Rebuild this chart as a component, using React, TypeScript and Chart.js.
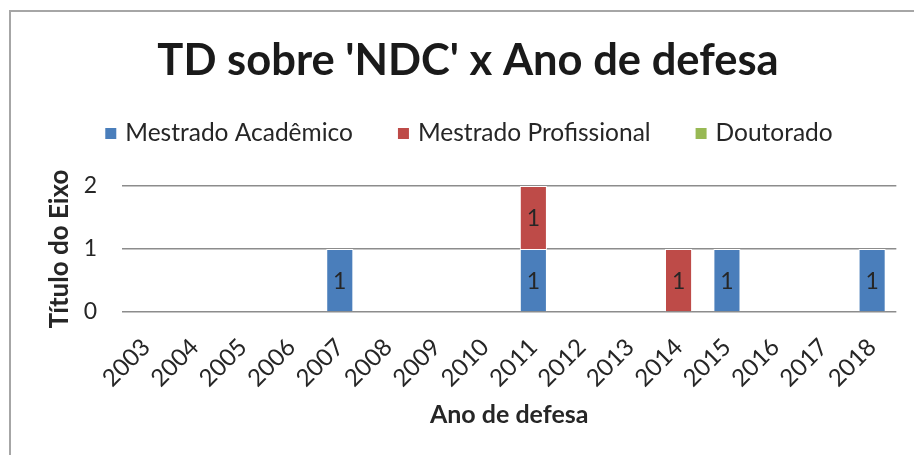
import React, { useEffect, useRef } from "react";
import { Chart, registerables } from "chart.js";

Chart.register(...registerables);

const categories = ["2003","2004","2005","2006","2007","2008","2009","2010","2011","2012","2013","2014","2015","2016","2017","2018"];
const academico = [0,0,0,0,1,0,0,0,1,0,0,0,1,0,0,1];
const profissional = [0,0,0,0,0,0,0,0,1,0,0,1,0,0,0,0];
const doutorado = [0,0,0,0,0,0,0,0,0,0,0,0,0,0,0,0];
const yTicks = [0, 1, 2];
const chartTitle = "TD sobre 'NDC' x Ano de defesa";

const FONT = "Lato, 'Open Sans', sans-serif";

const framePlugin = {
  id: "frameAndHeader",
  beforeDraw(chart: any) {
    const ctx = chart.ctx;
    ctx.save();
    ctx.fillStyle = "#ffffff";
    ctx.fillRect(0, 0, chart.width, chart.height);
    ctx.strokeStyle = "#a6a6a6";
    ctx.lineWidth = 2;
    ctx.beginPath();
    ctx.moveTo(10, chart.height);
    ctx.lineTo(10, 11);
    ctx.lineTo(chart.width, 11);
    ctx.stroke();
    ctx.restore();
  },
  afterDraw(chart: any) {
    const ctx = chart.ctx;
    ctx.save();
    ctx.font = `bold 43.5px ${FONT}`;
    ctx.fillStyle = "#1a1a1a";
    ctx.textAlign = "center";
    ctx.textBaseline = "alphabetic";
    ctx.fillText(chartTitle, 468, 75);
    ctx.font = `24.5px ${FONT}`;
    const box = 11;
    const gapText = 9;
    const gapItem = 45;
    const items = chart.data.datasets.map((ds: any) => ({
      label: ds.label,
      color: ds.backgroundColor,
      w: ctx.measureText(ds.label).width,
    }));
    const total = items.reduce((s: number, it: any) => s + box + gapText + it.w, 0) + gapItem * (items.length - 1);
    let x = 469 - total / 2;
    ctx.textAlign = "left";
    items.forEach((it: any) => {
      ctx.fillStyle = it.color;
      ctx.fillRect(x, 128, box, box);
      x += box + gapText;
      ctx.fillStyle = "#262626";
      ctx.fillText(it.label, x, 141);
      x += it.w + gapItem;
    });
    ctx.restore();
  },
};

const labelPlugin = {
  id: "barLabels",
  afterDatasetsDraw(chart: any) {
    const ctx = chart.ctx;
    ctx.save();
    ctx.font = `23px ${FONT}`;
    ctx.fillStyle = "#262626";
    ctx.textAlign = "center";
    ctx.textBaseline = "middle";
    chart.data.datasets.forEach((ds: any, i: number) => {
      const meta = chart.getDatasetMeta(i);
      meta.data.forEach((bar: any, j: number) => {
        const v = ds.data[j];
        if (!v) return;
        const y = (bar.y + bar.base) / 2;
        ctx.fillText(String(v), bar.x, y + 1);
      });
    });
    ctx.restore();
  },
};

export default function App() {
  const ref = useRef<HTMLCanvasElement>(null);
  useEffect(() => {
    if (!ref.current) return;
    const chart = new Chart(ref.current, {
      type: "bar",
      data: {
        labels: categories,
        datasets: [
          { label: "Mestrado Acadêmico", data: academico, backgroundColor: "#4A7EBB", borderColor: "#ffffff", borderWidth: 1 },
          { label: "Mestrado Profissional", data: profissional, backgroundColor: "#BE4B48", borderColor: "#ffffff", borderWidth: 1 },
          { label: "Doutorado", data: doutorado, backgroundColor: "#98B954", borderColor: "#ffffff", borderWidth: 1 },
        ],
      },
      options: {
        animation: false,
        responsive: true,
        maintainAspectRatio: false,
        datasets: { bar: { categoryPercentage: 1, barPercentage: 0.56 } },
        layout: { padding: { left: 0, right: 16, top: 186, bottom: 0 } },
        plugins: {
          title: { display: false },
          legend: { display: false },
          tooltip: { enabled: false },
        },
        scales: {
          x: {
            stacked: true,
            grid: { display: false, drawTicks: false },
            border: { display: false },
            afterFit(scale: any) {
              scale.height = 143;
            },
            ticks: {
              color: "#262626",
              font: { family: FONT, size: 24 },
              maxRotation: 45,
              minRotation: 45,
              padding: 21,
            },
            title: {
              display: true,
              text: "Ano de defesa",
              color: "#262626",
              font: { family: FONT, size: 25, weight: "bold" },
              padding: { top: 0, bottom: 25 },
            },
          },
          y: {
            stacked: true,
            min: 0,
            max: 2,
            grid: { color: "#8c8c8c", lineWidth: 1.5, drawTicks: false },
            border: { display: false },
            afterBuildTicks(scale: any) {
              scale.ticks = yTicks.map((v) => ({ value: v }));
            },
            afterFit(scale: any) {
              scale.width = 122;
            },
            ticks: {
              color: "#262626",
              font: { family: FONT, size: 23 },
              padding: 25,
            },
            title: {
              display: true,
              text: "Título do Eixo",
              color: "#262626",
              font: { family: FONT, size: 26, weight: "bold" },
              padding: { top: 44, bottom: 0 },
            },
          },
        },
      },
      plugins: [framePlugin, labelPlugin],
    });
    return () => chart.destroy();
  }, []);
  return (
    <div style={{ position: "absolute", left: 0, top: 0, width: 914, height: 455 }}>
      <canvas ref={ref} />
    </div>
  );
}
